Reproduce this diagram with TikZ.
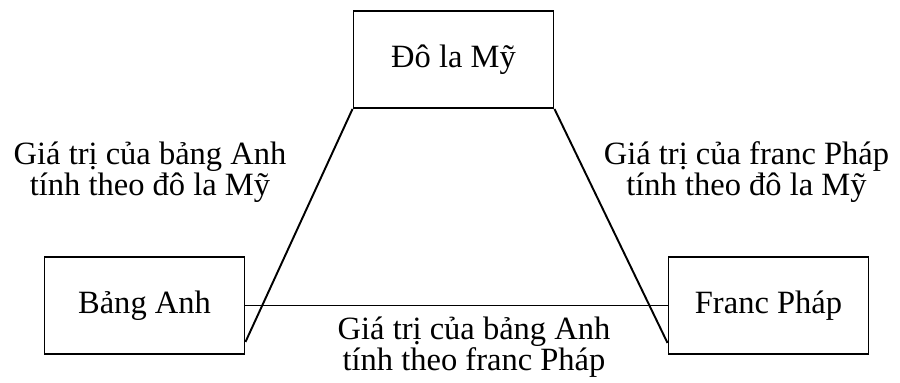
\documentclass[tikz,border=0pt]{standalone}
\usepackage{fontspec}
\setmainfont{Liberation Serif}
\usetikzlibrary{positioning}

\begin{document}
\begin{tikzpicture}[line width=1.1pt, every node/.style={font=\fontsize{18.5}{17.5}\selectfont},
  currency/.style={draw, minimum width=4cm, minimum height=1.94cm, inner sep=0pt},
  rate/.style={align=center, inner sep=0pt}]
\useasboundingbox (0,0) rectangle (18,7.66);
\node[currency] (usd) at (9.07,6.47) {Đô la Mỹ};
\node[currency] (gbp) at (2.89,1.55) {Bảng Anh};
\node[currency] (frf) at (15.37,1.55) {Franc Pháp};
\coordinate (gbpend) at ([yshift=0.26cm]gbp.south east);
\coordinate (frfend) at ([yshift=0.24cm]frf.south west);
\draw (usd.south west) -- (gbpend);
\draw (usd.south east) -- (frfend);
\draw (gbp.east) -- (frf.west);
\node[rate] (gbpusd) at (3.0,4.22) {Giá trị của bảng Anh\\tính theo đô la Mỹ};
\node[rate] (frfusd) at (14.93,4.22) {Giá trị của franc Pháp\\tính theo đô la Mỹ};
\node[rate] (gbpfrf) at (9.48,0.72) {Giá trị của bảng Anh\\tính theo franc Pháp};
\end{tikzpicture}
\end{document}
